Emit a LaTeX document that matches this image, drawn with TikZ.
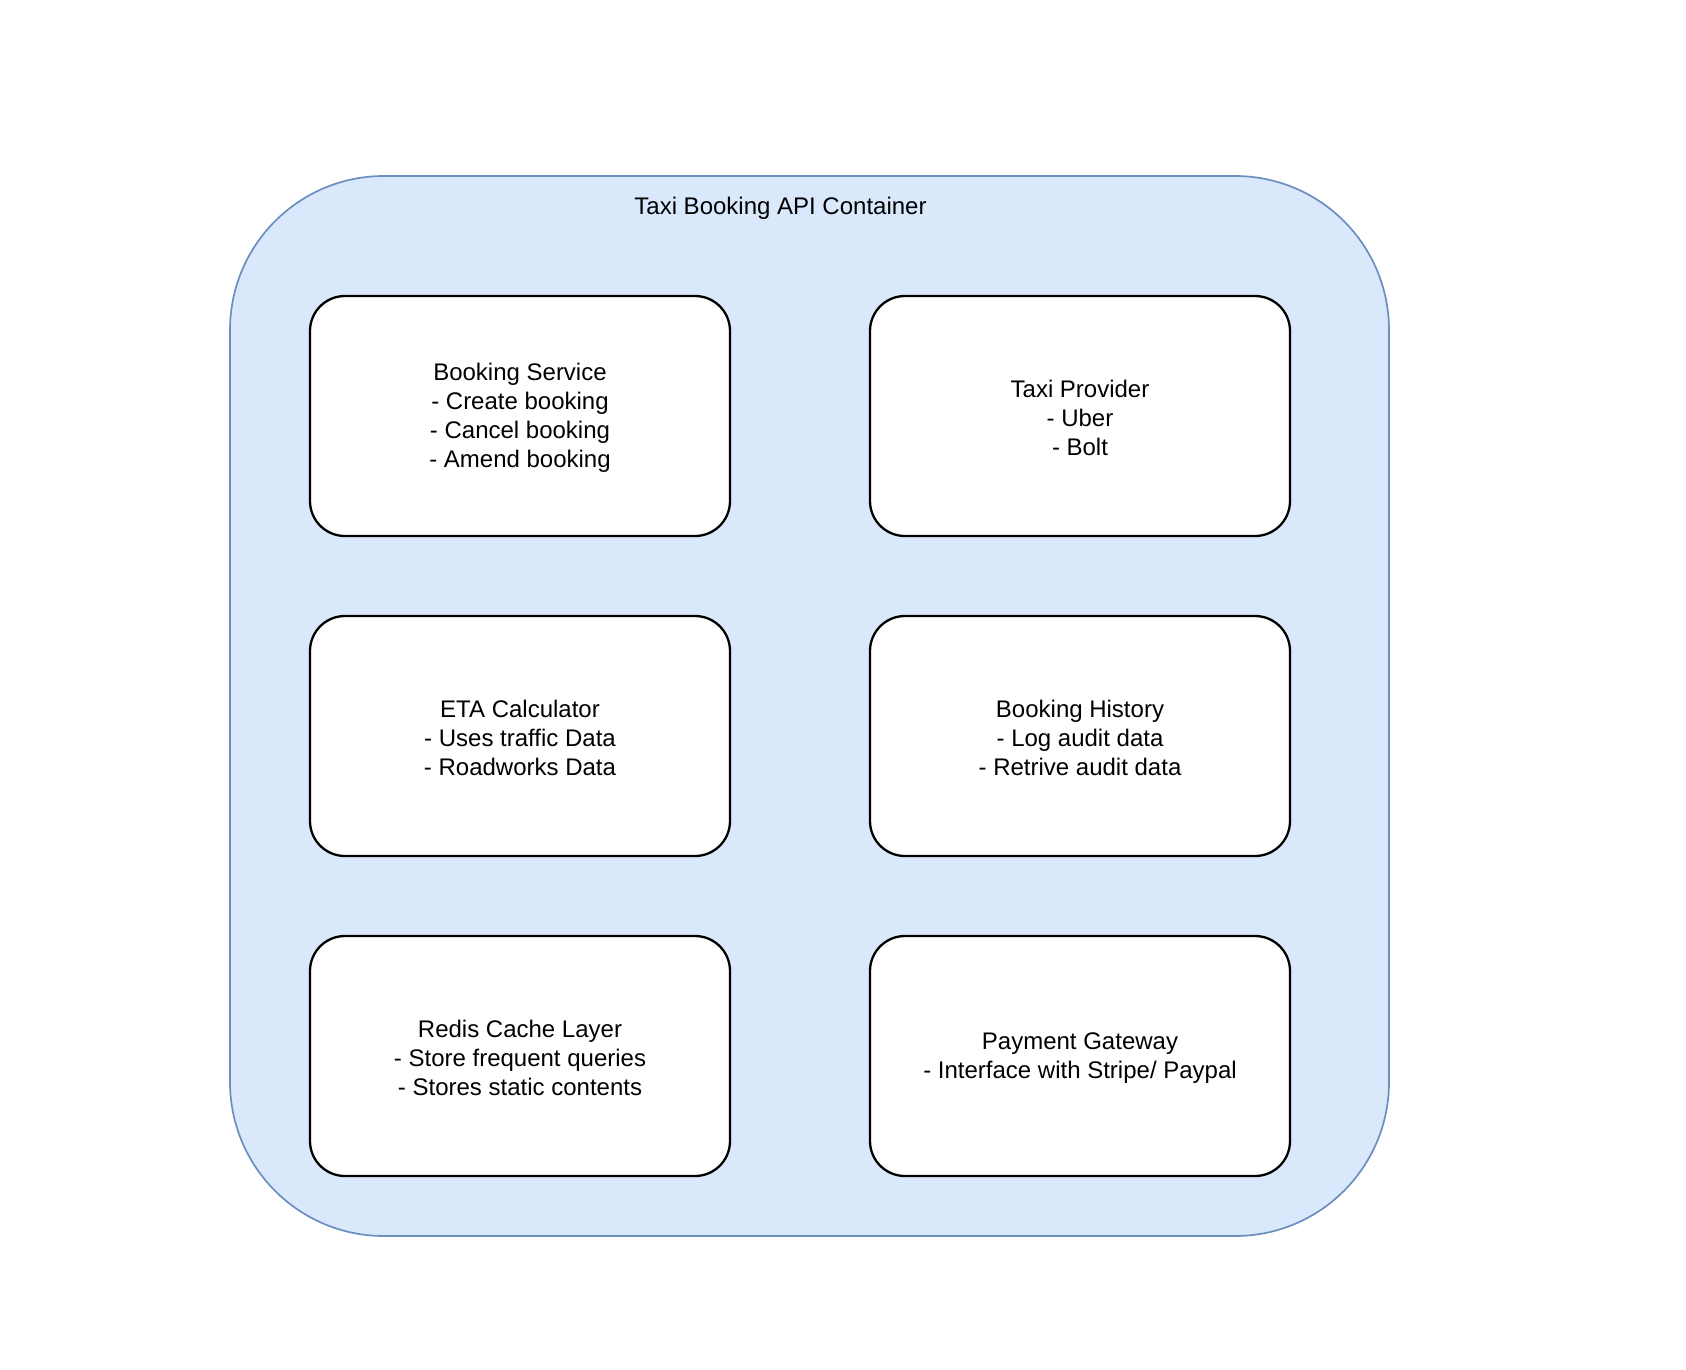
\documentclass[tikz,border=0pt]{standalone}
\usepackage{fontspec}
\setmainfont{Liberation Sans}
\definecolor{contfill}{HTML}{DAE8FC}
\definecolor{contdraw}{HTML}{6C8EBF}
\begin{document}
\begin{tikzpicture}[x=0.5pt,y=-0.5pt,
  container/.style={draw=contdraw,fill=contfill,line width=0.85pt,rounded corners=77pt},
  svcbox/.style={draw=black,fill=white,line width=1.15pt,rounded corners=17.5pt},
  lbl/.style={font=\fontsize{12pt}{14.5pt}\selectfont,align=center,inner sep=0pt}]
\useasboundingbox (0,0) rectangle (1686,1370);
\draw[container] (230,176) rectangle (1389,1236);
\node[lbl] (title) at (780.5,208) {Taxi Booking API Container};
% boxes
\draw[svcbox] (310,296) rectangle (730,536);
\node[lbl] (booking) at (520,418) {Booking Service\\- Create booking\\- Cancel booking\\- Amend booking};
\draw[svcbox] (870,296) rectangle (1290,536);
\node[lbl] (taxi) at (1080,418) {Taxi Provider\\- Uber\\- Bolt};
\draw[svcbox] (310,616) rectangle (730,856);
\node[lbl] (eta) at (520,738) {ETA Calculator\\- Uses traffic Data\\- Roadworks Data};
\draw[svcbox] (870,616) rectangle (1290,856);
\node[lbl] (history) at (1080,738) {Booking History\\- Log audit data\\- Retrive audit data};
\draw[svcbox] (310,936) rectangle (730,1176);
\node[lbl] (redis) at (520,1058) {Redis Cache Layer\\- Store frequent queries\\- Stores static contents};
\draw[svcbox] (870,936) rectangle (1290,1176);
\node[lbl] (payment) at (1080,1058) {Payment Gateway\\- Interface with Stripe/ Paypal};
\end{tikzpicture}
\end{document}
